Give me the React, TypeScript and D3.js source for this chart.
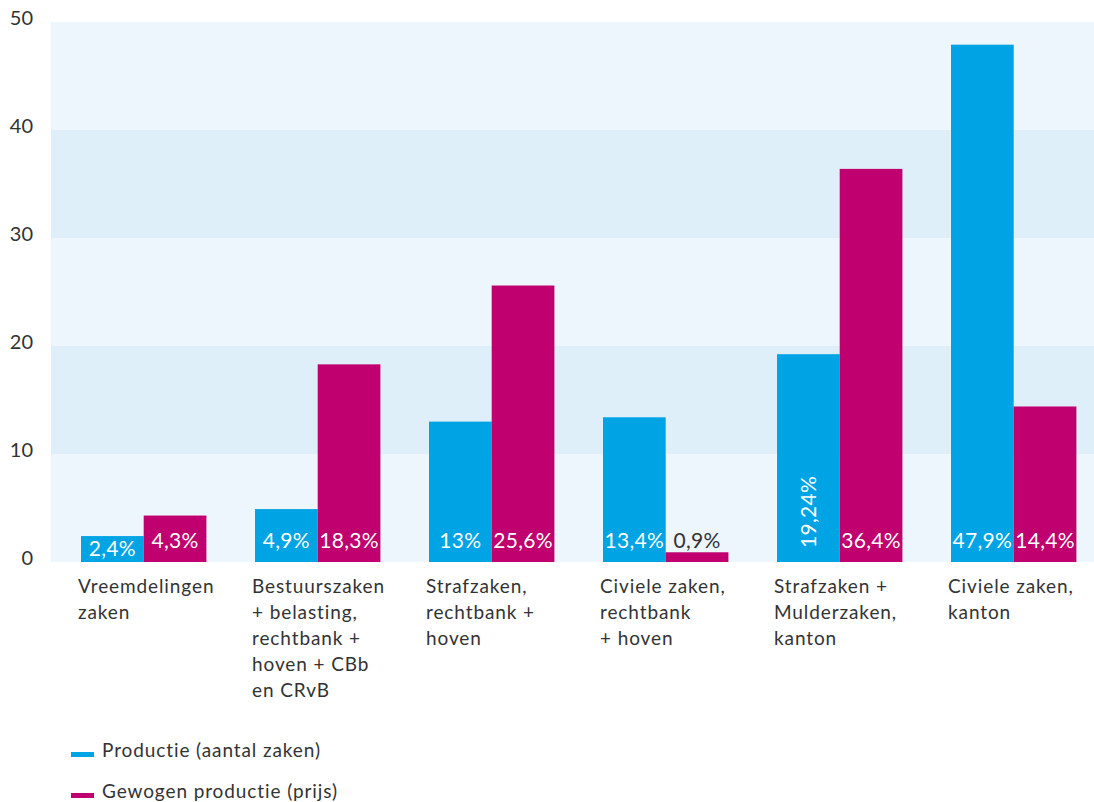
import React from "react";
import * as d3 from "d3";

// categorieën (x-as), als regels tekst
const categories = [
  ["Vreemdelingen", "zaken"],
  ["Bestuurszaken", "+ belasting,", "rechtbank +", "hoven + CBb", "en CRvB"],
  ["Strafzaken,", "rechtbank +", "hoven"],
  ["Civiele zaken,", "rechtbank", "+ hoven"],
  ["Strafzaken +", "Mulderzaken,", "kanton"],
  ["Civiele zaken,", "kanton"],
];
const productie = [2.4, 4.9, 13, 13.4, 19.24, 47.9];
const gewogen = [4.3, 18.3, 25.6, 0.9, 36.4, 14.4];
const productieLabels = ["2,4%", "4,9%", "13%", "13,4%", "19,24%", "47,9%"];
const gewogenLabels = ["4,3%", "18,3%", "25,6%", "0,9%", "36,4%", "14,4%"];
const seriesNames = ["Productie (aantal zaken)", "Gewogen productie (prijs)"];
const yTicks = [0, 10, 20, 30, 40, 50];

const W = 1094;
const H = 802;
const margin = { top: 22, right: 0, bottom: 240, left: 51 };
const colors = ["#00a4e4", "#bf006e"];
const bandColors = ["#edf5fd", "#dfeffa"];
const font = "Lato, 'Noto Sans', sans-serif";

export default function App() {
  const plotBottom = H - margin.bottom;
  const y = d3.scaleLinear().domain([0, 50]).range([plotBottom, margin.top]);

  const idx = d3.range(categories.length);
  const x0 = d3
    .scaleBand<number>()
    .domain(idx)
    .range([margin.left, W - margin.right + 1])
    .padding(0);
  const x1 = d3
    .scaleBand<number>()
    .domain([0, 1])
    .range([30, 30 + 125.4])
    .padding(0);

  const values = [productie, gewogen];
  const labels = [productieLabels, gewogenLabels];

  return (
    <svg
      width={W}
      height={H}
      style={{ position: "absolute", left: 0, top: 0, display: "block" }}
      fontFamily={font}
    >
      {/* achtergrondbanden */}
      {yTicks.slice(0, -1).map((t, i) => (
        <rect
          key={"band" + t}
          x={margin.left}
          y={y(t + 10)}
          width={W - margin.left}
          height={y(t) - y(t + 10)}
          fill={bandColors[i % 2]}
        />
      ))}

      {/* y-as labels */}
      {yTicks.map((t) => (
        <text
          key={"yt" + t}
          x={33}
          y={y(t) + 3}
          textAnchor="end"
          fontSize={20}
          fill="#333"
        >
          {t}
        </text>
      ))}

      {/* staven */}
      {idx.map((c) =>
        [0, 1].map((s) => {
          const v = values[s][c];
          const bx = x0(c)! + x1(s)!;
          const bw = x1.bandwidth();
          const by = y(v);
          const bh = y(0) - y(v);
          const label = labels[s][c];
          const cx = bx + bw / 2;
          const small = bh < 15;
          const base = bh < 30 && !small ? y(0) - 6 : y(0) - 14;
          const rotate = label.length >= 6;
          return (
            <g key={`bar${c}-${s}`}>
              <rect x={bx} y={by} width={bw} height={bh} fill={colors[s]} />
              {rotate ? (
                <text
                  transform={`translate(${cx + 7.5},${base}) rotate(-90)`}
                  textAnchor="start"
                  fontSize={21}
                  letterSpacing={0.3}
                  fill="#fff"
                >
                  {label}
                </text>
              ) : (
                <text
                  x={cx}
                  y={base}
                  textAnchor="middle"
                  fontSize={21}
                  letterSpacing={0.3}
                  fill={small ? "#333" : "#fff"}
                >
                  {label}
                </text>
              )}
            </g>
          );
        })
      )}

      {/* categorie labels */}
      {idx.map((c) => (
        <text
          key={"cat" + c}
          x={x0(c)! + x1(0)! - 3}
          y={593}
          fontSize={19}
          letterSpacing={0.9}
          fill="#333"
        >
          {categories[c].map((line, j) => (
            <tspan key={j} x={x0(c)! + x1(0)! - 3} dy={j === 0 ? 0 : 26}>
              {line}
            </tspan>
          ))}
        </text>
      ))}

      {/* legenda */}
      {seriesNames.map((name, i) => (
        <g key={"leg" + i} transform={`translate(71,${752 + i * 41})`}>
          <rect x={0} y={0} width={23} height={5} fill={colors[i]} />
          <text x={31} y={5} fontSize={19} letterSpacing={0.9} fill="#333">
            {name}
          </text>
        </g>
      ))}
    </svg>
  );
}
